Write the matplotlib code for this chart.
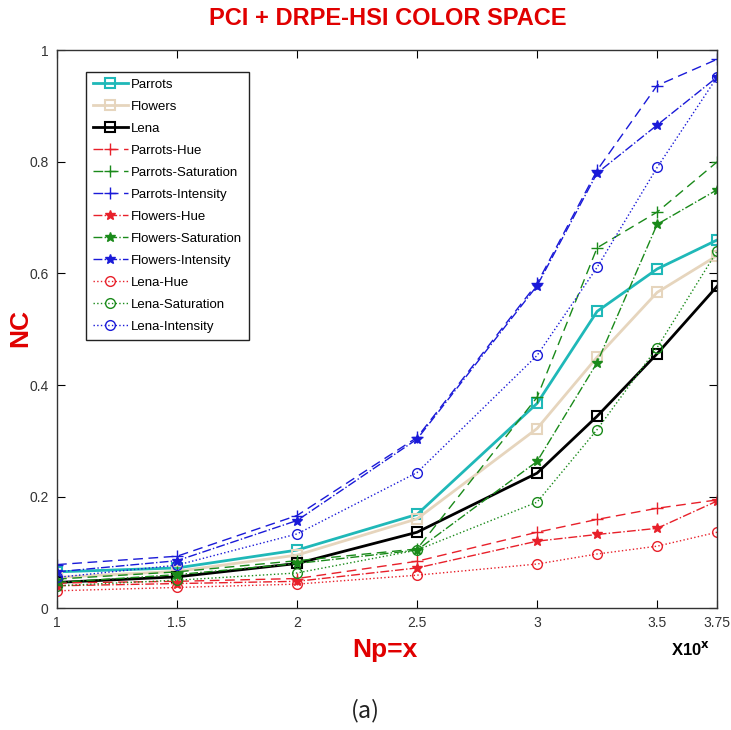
import matplotlib
matplotlib.use("Agg")
import matplotlib.pyplot as plt

# Np values (x10^x)
x_vals = [1, 1.5, 2, 2.5, 3, 3.25, 3.5, 3.75]

parrots = [0.065, 0.072, 0.104, 0.168, 0.367, 0.532, 0.608, 0.660]
flowers = [0.055, 0.066, 0.095, 0.160, 0.322, 0.450, 0.566, 0.632]
lena = [0.046, 0.056, 0.080, 0.136, 0.242, 0.344, 0.456, 0.577]

parrots_hue = [0.045, 0.048, 0.053, 0.084, 0.136, 0.159, 0.179, 0.194]
parrots_sat = [0.052, 0.065, 0.085, 0.106, 0.378, 0.646, 0.710, 0.800]
parrots_int = [0.078, 0.093, 0.166, 0.306, 0.582, 0.785, 0.937, 0.984]

flowers_hue = [0.040, 0.044, 0.048, 0.072, 0.120, 0.132, 0.143, 0.192]
flowers_sat = [0.046, 0.060, 0.080, 0.104, 0.263, 0.440, 0.688, 0.750]
flowers_int = [0.065, 0.085, 0.157, 0.303, 0.578, 0.780, 0.866, 0.952]

lena_hue = [0.031, 0.037, 0.043, 0.059, 0.079, 0.097, 0.111, 0.136]
lena_sat = [0.040, 0.050, 0.063, 0.104, 0.190, 0.320, 0.467, 0.640]
lena_int = [0.055, 0.077, 0.133, 0.243, 0.453, 0.611, 0.790, 0.952]

x_ticks = [1, 1.5, 2, 2.5, 3, 3.5, 3.75]
x_tick_labels = ['1', '1.5', '2', '2.5', '3', '3.5', '3.75']
y_ticks = [0, 0.2, 0.4, 0.6, 0.8, 1]
y_tick_labels = ['0', '0.2', '0.4', '0.6', '0.8', '1']

narrow = ['Liberation Sans', 'DejaVu Sans']

fig = plt.figure(figsize=(7.31, 7.30), dpi=100)
ax = fig.add_axes([0.078, 0.167, 0.903, 0.764])

cyan = '#1fb8b8'
beige = '#e6d5bd'
red = '#e8202a'
green = '#1a8a1a'
blue = '#1a1ad8'

ax.plot(x_vals, parrots, '-', color=cyan, lw=2, marker='s', ms=7, mfc='none', mew=1.5, label='Parrots')
ax.plot(x_vals, flowers, '-', color=beige, lw=2, marker='s', ms=7, mfc='none', mew=1.5, label='Flowers')
ax.plot(x_vals, lena, '-', color='black', lw=2, marker='s', ms=7, mfc='none', mew=1.5, label='Lena')

ax.plot(x_vals, parrots_hue, '--', color=red, lw=1, marker='+', ms=9, label='Parrots-Hue', dashes=(7, 4))
ax.plot(x_vals, parrots_sat, '--', color=green, lw=1, marker='+', ms=9, label='Parrots-Saturation', dashes=(7, 4))
ax.plot(x_vals, parrots_int, '--', color=blue, lw=1, marker='+', ms=9, label='Parrots-Intensity', dashes=(7, 4))

ax.plot(x_vals, flowers_hue, '-.', color=red, lw=1, marker='*', ms=7, label='Flowers-Hue')
ax.plot(x_vals, flowers_sat, '-.', color=green, lw=1, marker='*', ms=7, label='Flowers-Saturation')
ax.plot(x_vals, flowers_int, '-.', color=blue, lw=1, marker='*', ms=7, label='Flowers-Intensity')

ax.plot(x_vals, lena_hue, ':', color=red, lw=1, marker='o', ms=7, mfc='none', label='Lena-Hue')
ax.plot(x_vals, lena_sat, ':', color=green, lw=1, marker='o', ms=7, mfc='none', label='Lena-Saturation')
ax.plot(x_vals, lena_int, ':', color=blue, lw=1, marker='o', ms=7, mfc='none', label='Lena-Intensity')

ax.set_xlim(1, 3.75)
ax.set_ylim(0, 1)
ax.set_xticks(x_ticks)
ax.set_xticklabels(x_tick_labels, family=narrow, fontsize=10, color='#333333')
ax.set_yticks(y_ticks)
ax.set_yticklabels(y_tick_labels, family=narrow, fontsize=10, color='#333333')
ax.tick_params(direction='in', top=True, right=True, length=6, width=0.8, pad=6)
for sp in ax.spines.values():
    sp.set_linewidth(1)
    sp.set_color('#333333')

leg = ax.legend(loc='upper left', bbox_to_anchor=(0.044, 0.962), borderaxespad=0,
                prop={'family': narrow, 'size': 9.5},
                fancybox=False, edgecolor='#222222', framealpha=1, handlelength=2.6,
                handletextpad=0.25, labelspacing=0.74, borderpad=0.55)
leg.get_frame().set_linewidth(1)

fig.text(0.53, 0.975, 'PCI + DRPE-HSI COLOR SPACE', ha='center', va='center', color='#e00000',
         fontsize=17, fontweight='bold', family=narrow)
fig.text(0.028, 0.55, 'NC', ha='center', va='center', rotation=90, color='#e00000',
         fontsize=19, fontweight='bold', family=narrow)
fig.text(0.527, 0.109, 'Np=x', ha='center', va='center', color='#e00000',
         fontsize=19, fontweight='bold', family=narrow)
fig.text(0.945, 0.111, r'X10$^{\mathbf{x}}$', ha='center', va='center', color='black',
         fontsize=12, fontweight='bold', family=narrow)
fig.text(0.5, 0.027, '(a)', ha='center', va='center', color='#222222',
         fontsize=17, family=['Noto Sans CJK KR', 'DejaVu Sans'])

fig.savefig('out.png', dpi=100)
